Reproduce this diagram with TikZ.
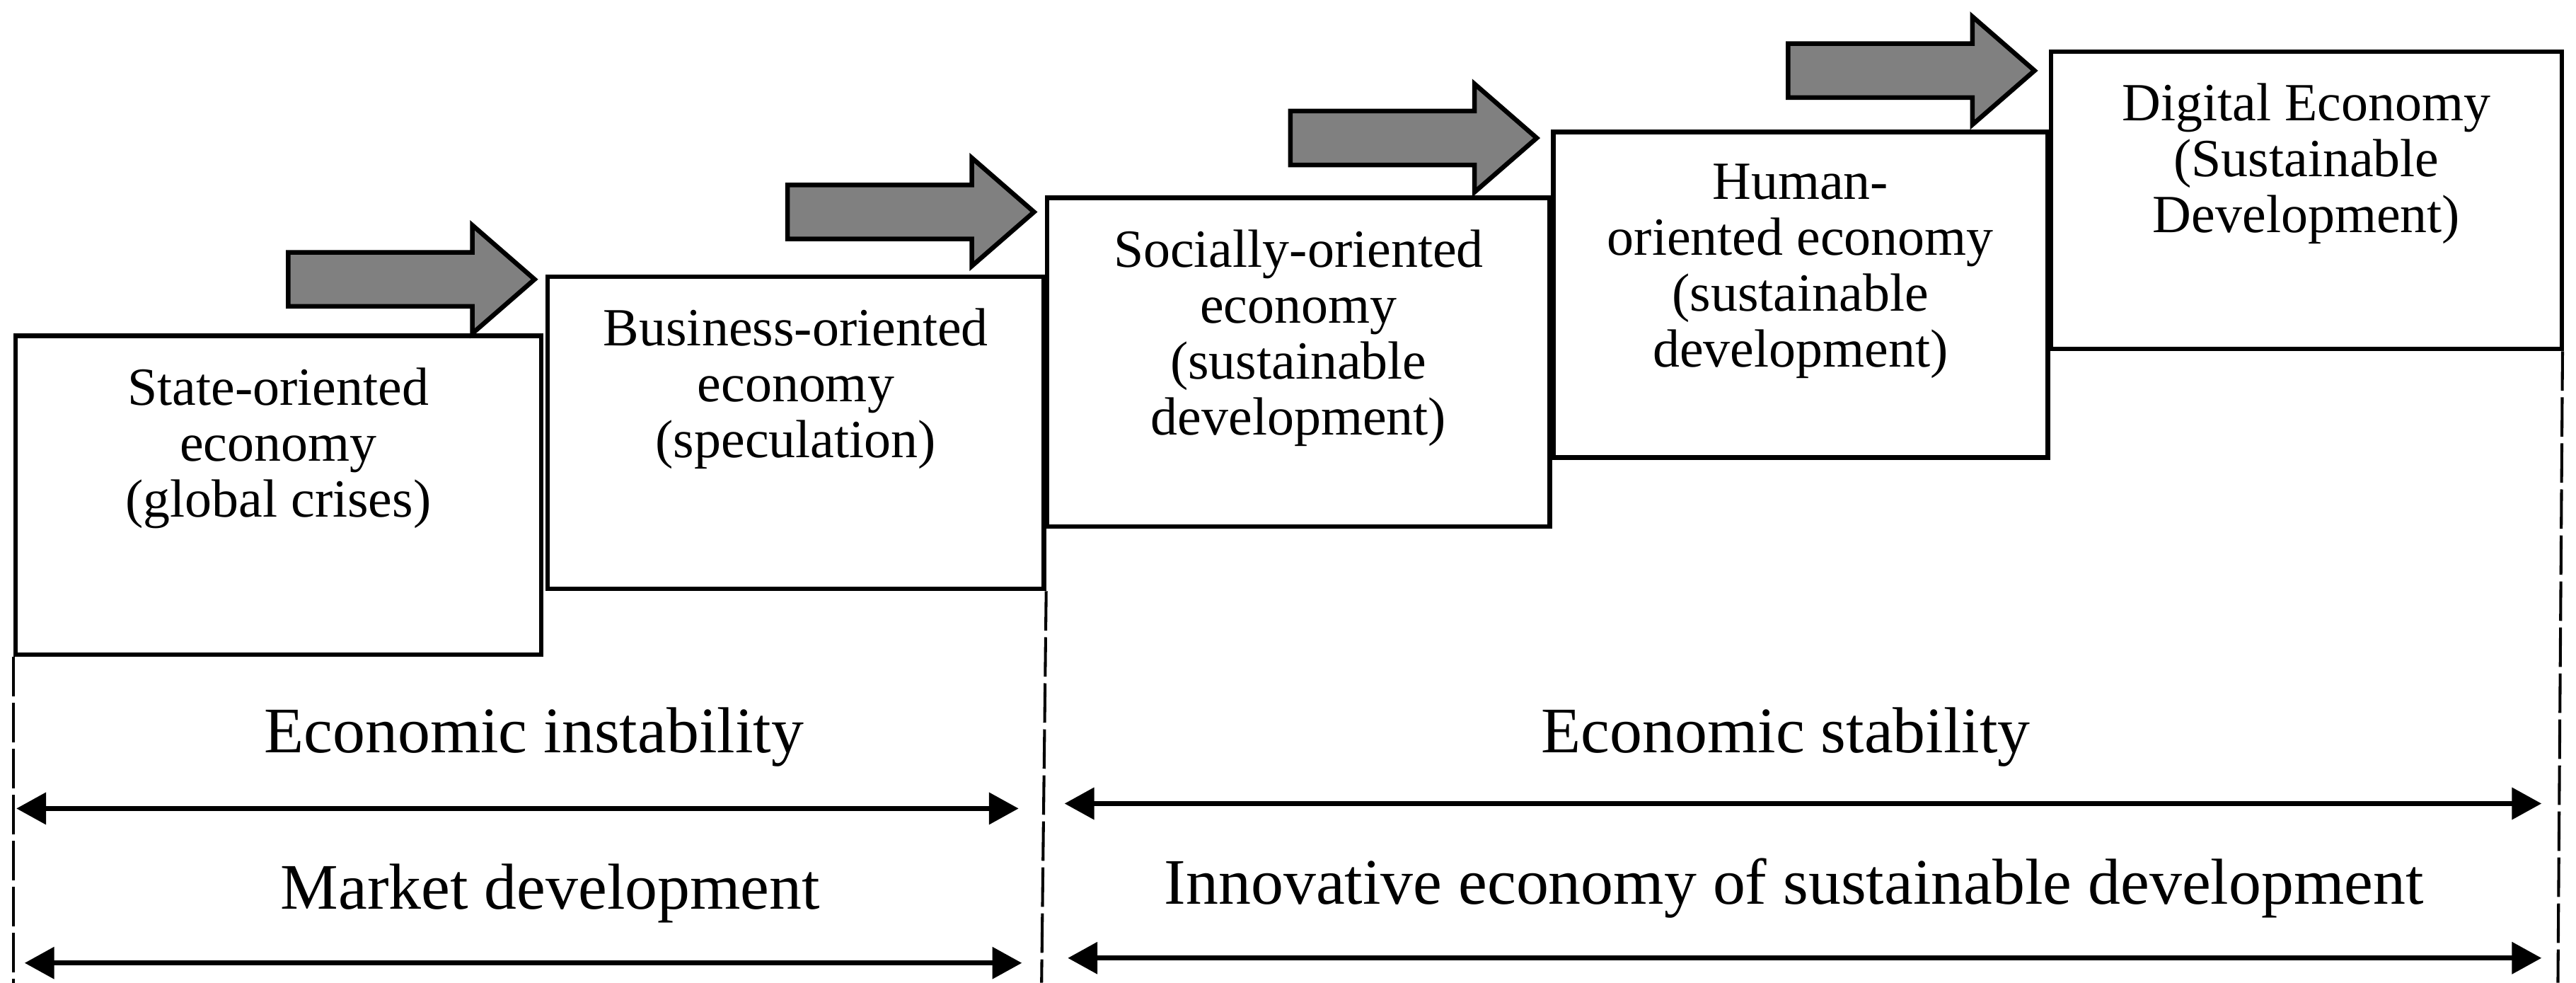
\documentclass[tikz,border=0pt]{standalone}
\usepackage{fontspec}
\setmainfont{Liberation Serif}
\usetikzlibrary{shapes,arrows.meta,positioning}

\begin{document}
\begin{tikzpicture}[x=0.1mm, y=-0.1mm,
	econ_box/.style={draw, line width=0.8pt, anchor=north west, inner sep=0pt},
	box_text/.style={anchor=north, align=center, inner sep=0pt, yshift=-2mm, font=\fontsize{9.3}{9.7}\selectfont},
	step_arrow/.style={single arrow, draw, fill=gray, line width=0.8pt, anchor=tail, minimum height=15mm, inner sep=1.5mm, single arrow head extend=1.65mm, single arrow tip angle=82},
	span_text/.style={anchor=base, inner sep=0pt, font=\fontsize{11.25}{13}\selectfont},
	span_arrow/.style={{Triangle[length=1.8mm,width=1.9mm]}-{Triangle[length=1.8mm,width=1.9mm]}, line width=0.8pt},
	dash_line/.style={dash pattern=on 2.4mm off 0.4mm, line width=0.5pt}]
	\useasboundingbox (0,0) rectangle (1568,598);
	% the five stages
	\node[econ_box, minimum width=32mm, minimum height=19.4mm, label={[box_text]north:State-oriented\\economy\\(global crises)}] (state) at (8,203) {};
	\node[econ_box, minimum width=30.2mm, minimum height=19mm, label={[box_text]north:Business-oriented\\economy\\(speculation)}] (business) at (332,167) {};
	\node[econ_box, minimum width=30.6mm, minimum height=20mm, label={[box_text]north:Socially-oriented\\economy\\(sustainable\\development)}] (social) at (636,119) {};
	\node[econ_box, minimum width=30.1mm, minimum height=19.8mm, label={[box_text]north:Human-\\oriented economy\\(sustainable\\development)}] (human) at (944,79) {};
	\node[econ_box, minimum width=31.1mm, minimum height=18.1mm, label={[box_text]north:Digital Economy\\(Sustainable\\Development)}] (digital) at (1247,30) {};
	% gray arrows
	\node[step_arrow] (a1) at (174,170) {};
	\node[step_arrow] (a2) at (478,129) {};
	\node[step_arrow] (a3) at (784,84) {};
	\node[step_arrow] (a4) at (1087,43) {};
	% dashed borders
	\coordinate (d1) at (8,598);
	\coordinate (d2) at (634,598);
	\coordinate (d3) at (1557,598);
	\draw[dash_line] (state.south west) -- (d1);
	\draw[dash_line] (business.south east) -- (d2);
	\draw[dash_line] ([xshift=-0.1mm]digital.south east) -- (d3);
	% spans
	\node[span_text] (instab) at (325,458) {Economic instability};
	\node[span_text] (market) at (335,553) {Market development};
	\node[span_text] (stab) at (1087,458) {Economic stability};
	\node[span_text] (innov) at (1092,550) {Innovative economy of sustainable development};
	\coordinate (l1a) at (10,492);
	\coordinate (l1b) at (620,492);
	\coordinate (r1a) at (648,489);
	\coordinate (r1b) at (1547,489);
	\coordinate (l2a) at (15,586);
	\coordinate (l2b) at (622,586);
	\coordinate (r2a) at (650,583);
	\coordinate (r2b) at (1547,583);
	\draw[span_arrow] (l1a) -- (l1b);
	\draw[span_arrow] (r1a) -- (r1b);
	\draw[span_arrow] (l2a) -- (l2b);
	\draw[span_arrow] (r2a) -- (r2b);
\end{tikzpicture}
\end{document}
